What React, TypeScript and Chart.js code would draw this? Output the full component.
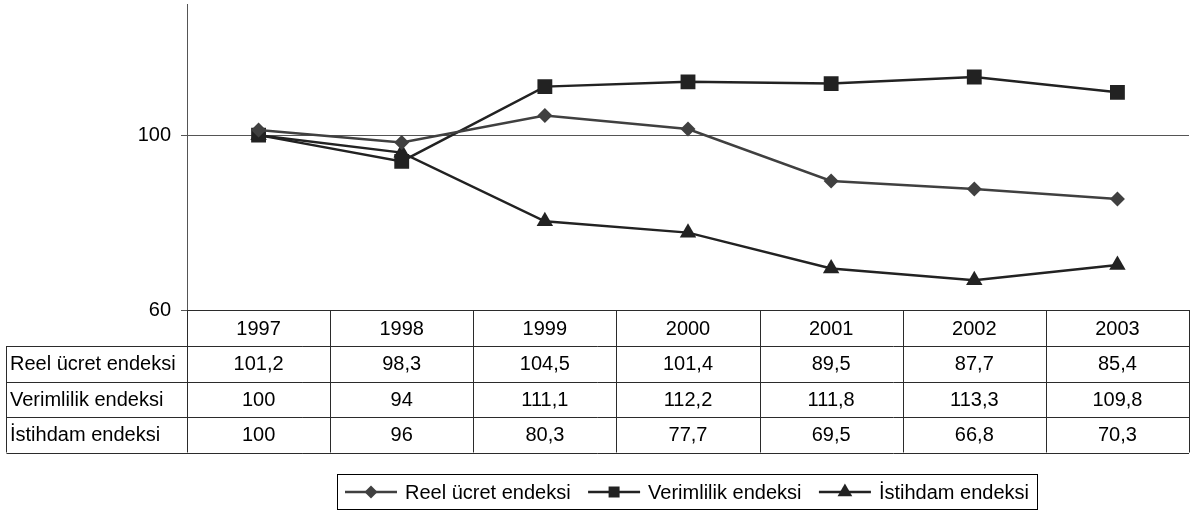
import React, { useEffect, useRef } from "react";
import { Chart, registerables } from "chart.js";

Chart.register(...registerables);

const years = ["1997", "1998", "1999", "2000", "2001", "2002", "2003"];
const reelUcret = [101.2, 98.3, 104.5, 101.4, 89.5, 87.7, 85.4];
const verimlilik = [100, 94, 111.1, 112.2, 111.8, 113.3, 109.8];
const istihdam = [100, 96, 80.3, 77.7, 69.5, 66.8, 70.3];
const seriesNames = ["Reel ücret endeksi", "Verimlilik endeksi", "İstihdam endeksi"];
const yTicks = [60, 100];

const FONT = "Liberation Sans, Arial, sans-serif";

const fmt = (v: number) => String(v).replace(".", ",");

const tablePlugin = {
  id: "dataTable",
  afterDraw(chart: any) {
    const ctx = chart.ctx;
    const area = chart.chartArea;
    const x = chart.scales.x;
    const left = area.left;
    const right = area.right;
    const n = years.length;
    const colW = (right - left) / n;
    const top = area.bottom;
    const headerH = 36;
    const rowH = 35.5;
    const tableLeft = 6.5;
    const rows = [reelUcret, verimlilik, istihdam];
    const bottom = top + headerH + rowH * rows.length;
    ctx.save();
    ctx.strokeStyle = "#2b2b2b";
    ctx.lineWidth = 1;
    for (let i = 0; i <= n; i++) {
      const xx = Math.round(left + colW * i) + 0.5;
      ctx.beginPath();
      ctx.moveTo(xx, top);
      ctx.lineTo(xx, bottom);
      ctx.stroke();
    }
    ctx.beginPath();
    ctx.moveTo(tableLeft, top + headerH);
    ctx.lineTo(tableLeft, bottom);
    ctx.stroke();
    ctx.beginPath();
    ctx.moveTo(left, Math.round(top) + 0.5);
    ctx.lineTo(right, Math.round(top) + 0.5);
    ctx.stroke();
    for (let r = 0; r <= rows.length; r++) {
      const yy = Math.round(top + headerH + rowH * r) + 0.5;
      ctx.beginPath();
      ctx.moveTo(tableLeft, yy);
      ctx.lineTo(right, yy);
      ctx.stroke();
    }
    ctx.fillStyle = "#000";
    ctx.font = `20px ${FONT}`;
    ctx.textBaseline = "middle";
    ctx.textAlign = "center";
    for (let i = 0; i < n; i++) {
      const cx = x.getPixelForValue(i);
      ctx.fillText(years[i], cx, top + headerH / 2 + 1);
      rows.forEach((row, r) => {
        ctx.fillText(fmt(row[i]), cx, top + headerH + rowH * r + rowH / 2 + 1);
      });
    }
    ctx.textAlign = "left";
    seriesNames.forEach((name, r) => {
      ctx.fillText(name, 10, top + headerH + rowH * r + rowH / 2 + 1);
    });
    ctx.restore();
  },
};

function drawMarker(ctx: CanvasRenderingContext2D, kind: string, x: number, y: number, color: string) {
  ctx.fillStyle = color;
  ctx.beginPath();
  if (kind === "diamond") {
    const r = 6.5;
    ctx.moveTo(x - r, y);
    ctx.lineTo(x, y - r);
    ctx.lineTo(x + r, y);
    ctx.lineTo(x, y + r);
  } else if (kind === "square") {
    const s = 5.5;
    ctx.rect(x - s, y - s, 2 * s, 2 * s);
  } else {
    const r = 8.5;
    ctx.moveTo(x, y - r);
    ctx.lineTo(x + r * 0.866, y + r * 0.5);
    ctx.lineTo(x - r * 0.866, y + r * 0.5);
  }
  ctx.closePath();
  ctx.fill();
}

const legendPlugin = {
  id: "customLegend",
  afterDraw(chart: any) {
    const ctx = chart.ctx;
    const kinds = ["diamond", "square", "triangle"];
    const colors = ["#404040", "#222222", "#222222"];
    const boxLeft = 337.5;
    const boxRight = 1037.5;
    const boxTop = 474.5;
    const boxH = 35;
    const cy = boxTop + boxH / 2;
    ctx.save();
    ctx.font = `20px ${FONT}`;
    ctx.textBaseline = "middle";
    ctx.textAlign = "left";
    const lineW = 52;
    const gap = 8;
    const startX = 345;
    const endX = 1029;
    const widths = seriesNames.map((s) => ctx.measureText(s).width);
    const used = widths.reduce((a, b) => a + b, 0) + 3 * (lineW + gap);
    const itemGap = (endX - startX - used) / 2;
    let xx = startX;
    seriesNames.forEach((name, i) => {
      ctx.strokeStyle = colors[i];
      ctx.lineWidth = 2.5;
      ctx.beginPath();
      ctx.moveTo(xx, cy);
      ctx.lineTo(xx + lineW, cy);
      ctx.stroke();
      drawMarker(ctx, kinds[i], xx + lineW / 2, cy, colors[i]);
      xx += lineW + gap;
      ctx.fillStyle = "#000";
      ctx.fillText(name, xx, cy + 1);
      xx += widths[i] + itemGap;
    });
    ctx.strokeStyle = "#000";
    ctx.lineWidth = 1;
    ctx.strokeRect(boxLeft, boxTop, boxRight - boxLeft, boxH);
    ctx.restore();
  },
};

export default function App() {
  const ref = useRef<HTMLCanvasElement | null>(null);
  useEffect(() => {
    if (!ref.current) return;
    const chart = new Chart(ref.current, {
      type: "line",
      data: {
        labels: years,
        datasets: [
          {
            label: seriesNames[0],
            data: reelUcret,
            borderColor: "#404040",
            backgroundColor: "#404040",
            borderWidth: 2.5,
            pointStyle: "rectRot",
            pointRadius: 7.5,
            pointBorderWidth: 0,
            pointBackgroundColor: "#404040",
            tension: 0,
          },
          {
            label: seriesNames[1],
            data: verimlilik,
            borderColor: "#222222",
            backgroundColor: "#222222",
            borderWidth: 2.5,
            pointStyle: "rect",
            pointRadius: 10.5,
            pointBorderWidth: 0,
            pointBackgroundColor: "#222222",
            tension: 0,
          },
          {
            label: seriesNames[2],
            data: istihdam,
            borderColor: "#222222",
            backgroundColor: "#222222",
            borderWidth: 2.5,
            pointStyle: "triangle",
            pointRadius: 9.5,
            pointBorderWidth: 0,
            pointBackgroundColor: "#222222",
            tension: 0,
          },
        ],
      },
      options: {
        responsive: false,
        animation: false,
        layout: { autoPadding: false, padding: { left: 0, right: 6, top: 4, bottom: 203 } },
        plugins: {
          legend: { display: false },
          tooltip: { enabled: false },
        },
        scales: {
          x: {
            display: false,
            offset: true,
          },
          y: {
            min: 60,
            max: 130,
            afterBuildTicks: (scale: any) => {
              scale.ticks = yTicks.map((v) => ({ value: v }));
            },
            afterFit: (scale: any) => {
              scale.width = 187;
              scale.paddingTop = 0;
              scale.paddingBottom = 0;
            },
            border: { display: true, color: "#555", width: 1 },
            grid: {
              color: "#555",
              lineWidth: 1,
              tickLength: 6,
              drawTicks: true,
            },
            ticks: {
              color: "#000",
              padding: 10,
              font: { family: FONT, size: 20 },
            },
          },
        },
      },
      plugins: [tablePlugin, legendPlugin],
    });
    return () => chart.destroy();
  }, []);
  return (
    <div style={{ position: "fixed", left: 0, top: 0, width: 1195, height: 513, background: "#fff" }}>
      <canvas ref={ref} width={1195} height={513} style={{ display: "block" }} />
    </div>
  );
}
